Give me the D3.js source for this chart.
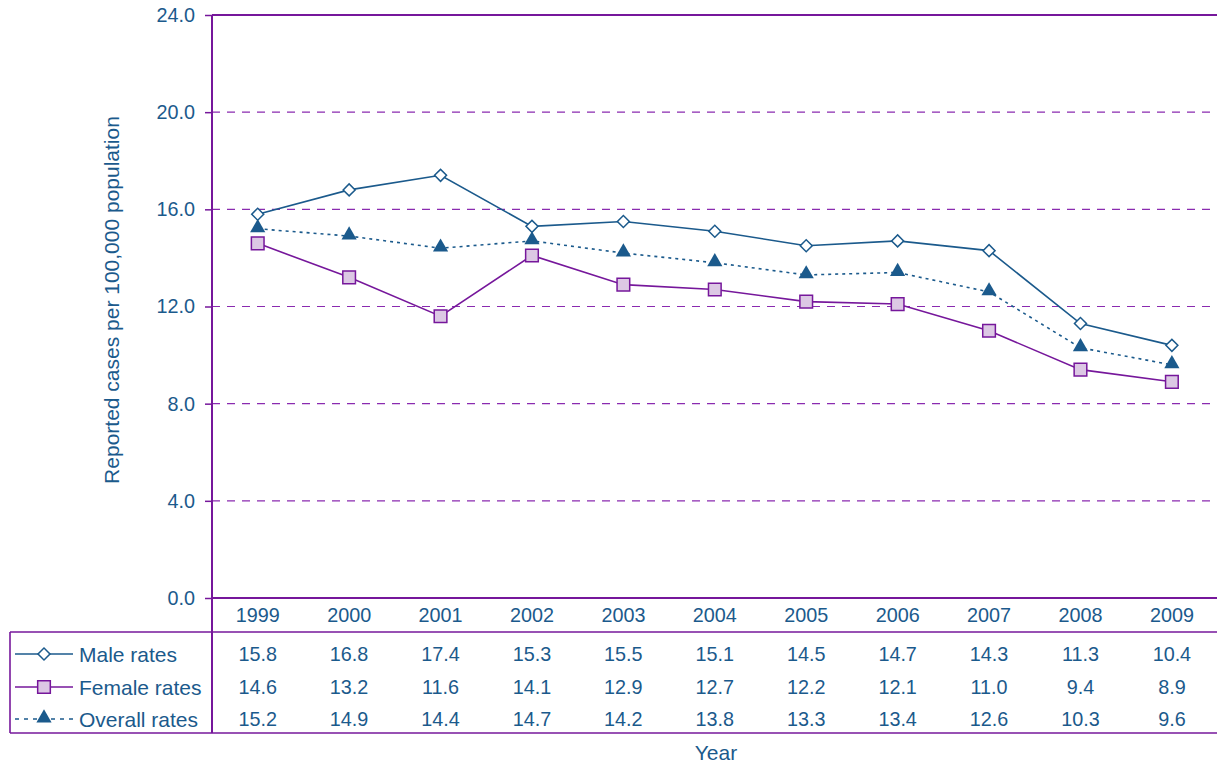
<!DOCTYPE html>
<html><head><meta charset="utf-8">
<script src="https://cdn.jsdelivr.net/npm/d3@7"></script>
<style>
html,body{margin:0;padding:0;background:#fff;}
svg{display:block;font-family:"Liberation Sans",Arial,sans-serif;}
</style></head>
<body>
<svg id="chart" width="1217" height="763"></svg>
<script>
const years = ["1999","2000","2001","2002","2003","2004","2005","2006","2007","2008","2009"];
const maleRates = [15.8,16.8,17.4,15.3,15.5,15.1,14.5,14.7,14.3,11.3,10.4];
const femaleRates = [14.6,13.2,11.6,14.1,12.9,12.7,12.2,12.1,11.0,9.4,8.9];
const overallRates = [15.2,14.9,14.4,14.7,14.2,13.8,13.3,13.4,12.6,10.3,9.6];
const yTicks = [0,4,8,12,16,20,24];
const seriesNames = ["Male rates","Female rates","Overall rates"];

const BLUE = "#1b5a8c", PURPLE = "#76179b", GRID = "#8a2bb0", FILL = "#dcc8e4";
const NUM_FS = 19.8, TXT_FS = 21;
const svg = d3.select("#chart");
const L = 212, R = 1217.6, T = 15, B = 598;
const x = d3.scaleBand().domain(years).range([L, R]);
const y = d3.scaleLinear().domain([0, 24]).range([B, T]);

// gridlines
svg.append("g").selectAll("line").data(yTicks.filter(d => d > 0 && d < 24)).join("line")
  .attr("x1", L).attr("x2", R).attr("y1", d => y(d)).attr("y2", d => y(d))
  .attr("stroke", GRID).attr("stroke-width", 1.2).attr("stroke-dasharray", "8,7");

// top border
svg.append("line").attr("x1", L).attr("x2", R).attr("y1", y(24)).attr("y2", y(24))
  .attr("stroke", PURPLE).attr("stroke-width", 2);

// y axis
const yAxis = svg.append("g").attr("transform", `translate(${L},0)`)
  .call(d3.axisLeft(y).tickValues(yTicks).tickFormat(d3.format(".1f")).tickSize(7).tickPadding(10));
yAxis.select(".domain").remove();
yAxis.selectAll(".tick line").attr("stroke", PURPLE).attr("stroke-width", 1.5);
yAxis.selectAll(".tick text").attr("fill", BLUE).attr("font-size", NUM_FS).attr("font-family", "Liberation Sans, Arial, sans-serif");

// table / axis lines
const rowLines = [B, 632, 733];
svg.append("g").selectAll("line").data(rowLines).join("line")
  .attr("x1", (d, i) => i === 0 ? L : 10).attr("x2", R)
  .attr("y1", d => d).attr("y2", d => d)
  .attr("stroke", PURPLE).attr("stroke-width", (d, i) => i === 0 ? 2 : 1.6);
svg.append("line").attr("x1", L).attr("x2", L).attr("y1", T).attr("y2", 733)
  .attr("stroke", PURPLE).attr("stroke-width", 2);
svg.append("line").attr("x1", 10).attr("x2", 10).attr("y1", 632).attr("y2", 733)
  .attr("stroke", PURPLE).attr("stroke-width", 1.6);

// year header via axis
const xAxis = svg.append("g").attr("transform", `translate(0,${B})`)
  .call(d3.axisBottom(x).tickSize(0).tickPadding(10));
xAxis.select(".domain").remove();
xAxis.selectAll(".tick text").attr("fill", BLUE).attr("font-size", NUM_FS).attr("font-family", "Liberation Sans, Arial, sans-serif");

// table values
const tableRows = [maleRates, femaleRates, overallRates];
const rowY = [654, 687, 719];
tableRows.forEach((vals, r) => {
  svg.append("g").selectAll("text").data(vals).join("text")
    .attr("x", (d, i) => x(years[i]) + x.bandwidth() / 2)
    .attr("y", rowY[r]).attr("dy", "0.36em")
    .attr("text-anchor", "middle").attr("fill", BLUE).attr("font-size", NUM_FS)
    .text(d => d3.format(".1f")(d));
});

// markers
const diamond = d3.symbol().type(d3.symbolSquare).size(72);
const square = d3.symbol().type(d3.symbolSquare).size(160);
const triangle = d3.symbol().type(d3.symbolTriangle).size(100);
const cx = (d, i) => x(years[i]) + x.bandwidth() / 2;
const line = d3.line().x(cx).y(d => y(d));

// overall (dotted)
svg.append("path").datum(overallRates).attr("d", line).attr("fill", "none")
  .attr("stroke", BLUE).attr("stroke-width", 1.6).attr("stroke-dasharray", "3,4");
// female
svg.append("path").datum(femaleRates).attr("d", line).attr("fill", "none")
  .attr("stroke", PURPLE).attr("stroke-width", 1.6);
// male
svg.append("path").datum(maleRates).attr("d", line).attr("fill", "none")
  .attr("stroke", BLUE).attr("stroke-width", 1.6);

svg.append("g").selectAll("path").data(overallRates).join("path")
  .attr("d", triangle).attr("transform", (d, i) => `translate(${cx(d, i)},${y(d) - 1})`)
  .attr("fill", BLUE);
svg.append("g").selectAll("path").data(femaleRates).join("path")
  .attr("d", square).attr("transform", (d, i) => `translate(${cx(d, i)},${y(d)})`)
  .attr("fill", FILL).attr("stroke", PURPLE).attr("stroke-width", 1.5);
svg.append("g").selectAll("path").data(maleRates).join("path")
  .attr("d", diamond).attr("transform", (d, i) => `translate(${cx(d, i)},${y(d)}) rotate(45)`)
  .attr("fill", "#fff").attr("stroke", BLUE).attr("stroke-width", 1.5);

// legend in table
const legendStyles = [
  {stroke: BLUE, dash: null, sym: diamond, fill: "#fff", sstroke: BLUE, rot: 45},
  {stroke: PURPLE, dash: null, sym: square, fill: FILL, sstroke: PURPLE, rot: 0},
  {stroke: BLUE, dash: "4,5", sym: triangle, fill: BLUE, sstroke: "none", rot: 0}
];
seriesNames.forEach((name, r) => {
  const st = legendStyles[r];
  const g = svg.append("g");
  g.append("line").attr("x1", 15).attr("x2", 73).attr("y1", rowY[r]).attr("y2", rowY[r])
    .attr("stroke", st.stroke).attr("stroke-width", 1.6).attr("stroke-dasharray", st.dash);
  g.append("path").attr("d", st.sym).attr("transform", `translate(44,${rowY[r] - (r === 2 ? 1 : 0)}) rotate(${st.rot})`)
    .attr("fill", st.fill).attr("stroke", st.sstroke).attr("stroke-width", 1.5);
  g.append("text").attr("x", 79).attr("y", rowY[r]).attr("dy", "0.36em")
    .attr("fill", BLUE).attr("font-size", TXT_FS).text(name);
});

// axis titles
svg.append("text").attr("transform", "translate(119,300) rotate(-90)")
  .attr("text-anchor", "middle").attr("fill", BLUE).attr("font-size", TXT_FS)
  .text("Reported cases per 100,000 population");
svg.append("text").attr("x", 716).attr("y", 752).attr("dy", "0.36em")
  .attr("text-anchor", "middle").attr("fill", BLUE).attr("font-size", TXT_FS).text("Year");
</script>
</body></html>
